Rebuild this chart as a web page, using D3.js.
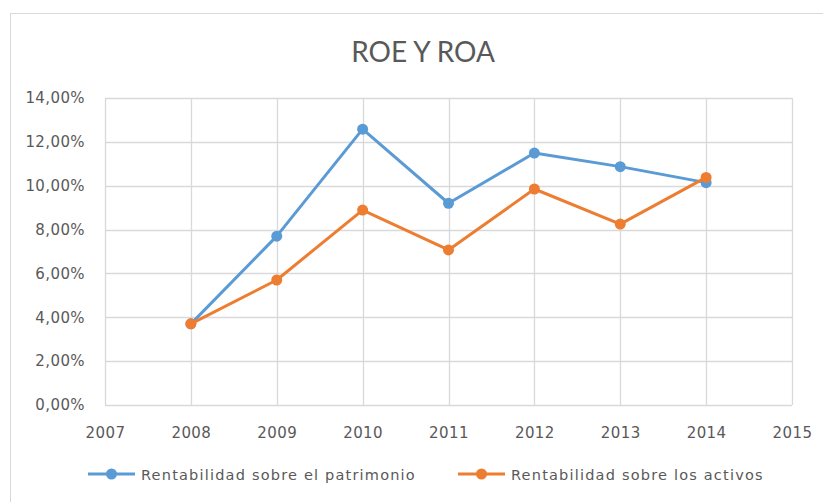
<!DOCTYPE html>
<html>
<head>
<meta charset="utf-8">
<script src="https://cdn.jsdelivr.net/npm/d3@7"></script>
<style>
  body { margin: 0; background: #fff; }
  text { font-family: "DejaVu Sans", sans-serif; fill: #595959; }
  .title { font-family: Lato, sans-serif; }
</style>
</head>
<body>
<div id="chart"></div>
<script>
var years = [2008, 2009, 2010, 2011, 2012, 2013, 2014];
var roe = [0.037, 0.077, 0.1258, 0.092, 0.1149, 0.1087, 0.1014];
var roa = [0.037, 0.057, 0.0889, 0.0707, 0.0985, 0.0825, 0.1038];
var yTicks = [0, 0.02, 0.04, 0.06, 0.08, 0.10, 0.12, 0.14];
var xTicks = [2007, 2008, 2009, 2010, 2011, 2012, 2013, 2014, 2015];
var seriesNames = ['Rentabilidad sobre el patrimonio', 'Rentabilidad sobre los activos'];
var colors = ['#5b9bd5', '#ed7d31'];

var width = 823, height = 502;
var plot = {left: 105, right: 792, top: 98, bottom: 405};

var svg = d3.select('#chart').append('svg')
  .attr('width', width).attr('height', height);

// chart frame
svg.append('rect')
  .attr('x', 10.5).attr('y', 13.5)
  .attr('width', 830).attr('height', 520)
  .attr('fill', 'none').attr('stroke', '#d9d9d9');

var x = d3.scaleLinear().domain([2007, 2015]).range([plot.left, plot.right]);
var y = d3.scaleLinear().domain([0, 0.14]).range([plot.bottom, plot.top]);

var fmt = function(v) { return d3.format('.2f')(v * 100).replace('.', ',') + '%'; };

// gridlines
var grid = svg.append('g').attr('class', 'grid');
grid.selectAll('line.h').data(yTicks).enter().append('line')
  .attr('x1', plot.left).attr('x2', plot.right)
  .attr('y1', function(d) { return Math.round(y(d)) + 0.5; })
  .attr('y2', function(d) { return Math.round(y(d)) + 0.5; })
  .attr('stroke', '#d9d9d9').attr('stroke-width', 1.3);
grid.selectAll('line.v').data(xTicks).enter().append('line')
  .attr('y1', plot.top).attr('y2', plot.bottom)
  .attr('x1', function(d) { return Math.round(x(d)) + 0.5; })
  .attr('x2', function(d) { return Math.round(x(d)) + 0.5; })
  .attr('stroke', '#d9d9d9').attr('stroke-width', 1.3);

// axes labels via d3 axes, lines hidden
var yAxis = svg.append('g')
  .attr('transform', 'translate(' + (plot.left - 20) + ',0)')
  .call(d3.axisLeft(y).tickValues(yTicks).tickFormat(fmt).tickSize(0));
var xAxis = svg.append('g')
  .attr('transform', 'translate(0,' + (plot.bottom + 19) + ')')
  .call(d3.axisBottom(x).tickValues(xTicks).tickFormat(d3.format('d')).tickSize(0));
[yAxis, xAxis].forEach(function(a) {
  a.select('.domain').remove();
  a.selectAll('text').attr('fill', '#595959')
    .style('font-family', '"DejaVu Sans", sans-serif').style('font-size', '15px')
    .style('letter-spacing', '0.4px');
});
yAxis.selectAll('text').attr('x', 0);

// title
svg.append('text')
  .attr('class', 'title')
  .attr('x', 423).attr('y', 62)
  .attr('text-anchor', 'middle')
  .style('font-size', '28px')
  .text('ROE Y ROA');

// lines
var series = [roe, roa];
var line = d3.line()
  .x(function(d, i) { return x(years[i]); })
  .y(function(d) { return y(d); });

series.forEach(function(s, k) {
  svg.append('path')
    .datum(s)
    .attr('d', line)
    .attr('fill', 'none')
    .attr('stroke', colors[k])
    .attr('stroke-width', 3)
    .attr('stroke-linejoin', 'round');
  svg.selectAll('circle.s' + k).data(s).enter().append('circle')
    .attr('class', 's' + k)
    .attr('cx', function(d, i) { return x(years[i]); })
    .attr('cy', function(d) { return y(d); })
    .attr('r', 5.5)
    .attr('fill', colors[k]);
});

// legend
var legendX = [88, 458];
var legend = svg.append('g').attr('transform', 'translate(0,474)');
seriesNames.forEach(function(name, k) {
  var g = legend.append('g').attr('transform', 'translate(' + legendX[k] + ',0)');
  g.append('line').attr('x1', 0).attr('x2', 47).attr('y1', 0).attr('y2', 0)
    .attr('stroke', colors[k]).attr('stroke-width', 3);
  g.append('circle').attr('cx', 23.5).attr('cy', 0).attr('r', 5.5).attr('fill', colors[k]);
  g.append('text').attr('x', 53).attr('y', 5.5)
    .style('font-size', '14.5px').style('letter-spacing', '1.2px').text(name);
});
</script>
</body>
</html>
